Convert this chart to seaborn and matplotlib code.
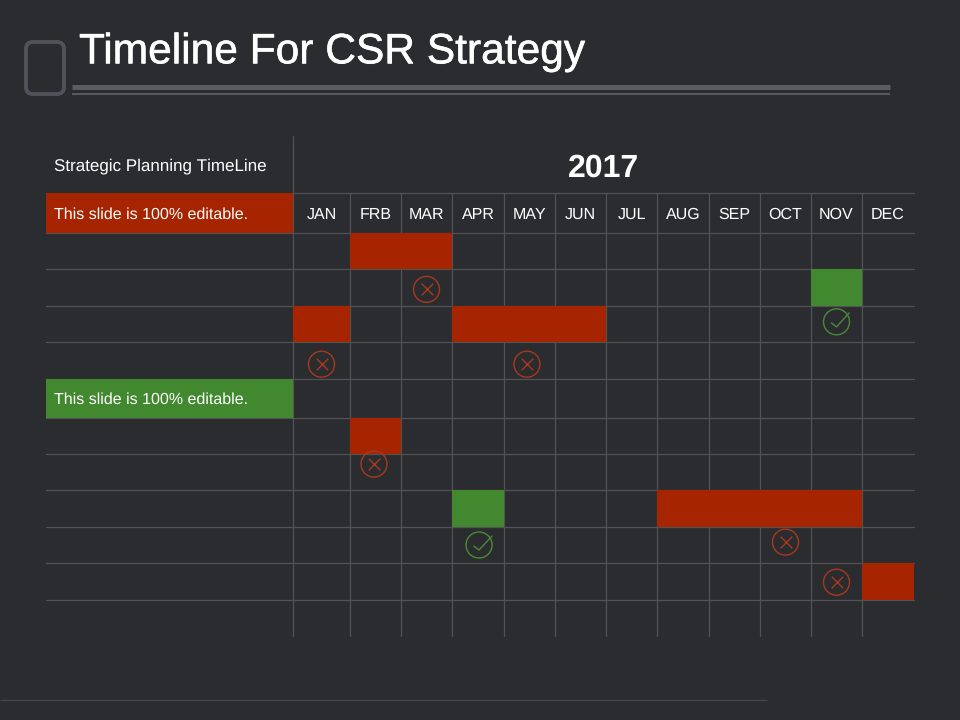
import numpy as np
import seaborn as sns
from matplotlib import pyplot as plt
from matplotlib import patheffects
from matplotlib.patches import FancyBboxPatch

BG = '#2a2c30'
GRID = '#505256'
RED = '#a62500'
GREEN = '#41882f'
MARK_RED = '#a8391d'
MARK_GREEN = '#4a8a38'

months = ['JAN', 'FRB', 'MAR', 'APR', 'MAY', 'JUN', 'JUL', 'AUG', 'SEP', 'OCT', 'NOV', 'DEC']
year = '2017'
title = 'Timeline For CSR Strategy'
header_label = 'Strategic Planning TimeLine'
editable_label = 'This slide is 100% editable.'

# row, first month, number of months, colour
bar_rows = [0, 1, 2, 2, 5, 7, 7, 9]
bar_starts = [1, 10, 0, 3, 1, 3, 7, 11]
bar_spans = [2, 1, 1, 3, 1, 1, 4, 1]
bar_colors = [RED, GREEN, RED, RED, RED, GREEN, RED, RED]

# status icons, position in month / row units
cross_months = [2.5, 0.5, 4.45, 1.47, 9.5, 10.5]
cross_rows = [1.55, 3.6, 3.6, 6.28, 8.42, 9.52]
check_months = [10.5, 3.52]
check_rows = [2.44, 8.5]

# pixel layout of the uneven table
col_px = [46, 293, 350, 401, 452, 504, 555, 606, 657, 709, 760, 811, 862, 914]
col_units = list(range(-1, 13))
row_px = [136, 193, 233, 269, 306, 342, 379, 418, 454, 490, 527, 563, 600, 636]
row_units = list(range(-2, 12))

W, H = 960, 720

sns.set_theme(style='dark', rc={'figure.facecolor': BG, 'axes.facecolor': BG})
plt.rcParams['font.family'] = ['Liberation Sans', 'DejaVu Sans']
plt.rcParams['text.hinting'] = 'no_hinting'
plt.rcParams['text.hinting_factor'] = 1

fig = plt.figure(figsize=(W / 100, H / 100), dpi=100)
ax = fig.add_axes([col_px[0] / W, 1 - row_px[-1] / H,
                   (col_px[-1] - col_px[0]) / W, (row_px[-1] - row_px[0]) / H])
ax.set_xscale('function', functions=(lambda v: np.interp(v, col_units, col_px),
                                     lambda v: np.interp(v, col_px, col_units)))
ax.set_yscale('function', functions=(lambda v: np.interp(v, row_units, row_px),
                                     lambda v: np.interp(v, row_px, row_units)))
ax.set_xlim(-1, 12)
ax.set_ylim(11, -2)
ax.set_xticks([])
ax.set_yticks([])
ax.minorticks_off()
for s in ax.spines.values():
    s.set_visible(False)

# grid
for c in range(0, 12):
    ax.plot([c, c], [-1 if c else -2, 11], color=GRID, lw=0.9, zorder=1, clip_on=False)
for r in range(-1, 11):
    ax.plot([-1 if r >= 0 else 0, 12], [r, r], color=GRID, lw=0.9, zorder=1, clip_on=False)

# bars
for row, start, span, color in zip(bar_rows, bar_starts, bar_spans, bar_colors):
    ax.barh(row + 0.5, span, left=start, height=1, color=color, lw=0, zorder=2)

# left column labels
ax.barh(-0.5, 1, left=-1, height=1, color=RED, lw=0, zorder=2)
ax.barh(4.5, 1, left=-1, height=1, color=GREEN, lw=0, zorder=2)
ax.text(-1 + 8 / 247, -1.47, header_label, color='white', fontsize=12.4, va='center')
ax.text(-1 + 8 / 247, -0.46, editable_label, color='white', fontsize=11.7, va='center', zorder=3)
ax.text(-1 + 8 / 247, 4.54, editable_label, color='white', fontsize=11.7, va='center', zorder=3)

# header
ax.text(5.96, -1.43, year, color='white', fontsize=23, fontweight='bold', ha='center', va='center')
for i, m in enumerate(months):
    ax.text(i + 0.5, -0.46, m, color='white', fontsize=11.7, ha='center', va='center')

# status icons
sns.scatterplot(x=cross_months, y=cross_rows, ax=ax, s=350, facecolor='none',
                edgecolor=MARK_RED, linewidth=1, zorder=4, legend=False)
sns.scatterplot(x=cross_months, y=cross_rows, ax=ax, s=70, marker='x', color=MARK_RED,
                linewidth=1, zorder=4, legend=False)
sns.scatterplot(x=check_months, y=check_rows, ax=ax, s=350, facecolor='none',
                edgecolor=MARK_GREEN, linewidth=1, zorder=4, legend=False)
for m, r in zip(check_months, check_rows):
    ax.plot([m - 0.1, m, m + 0.25], [r + 0.03, r + 0.14, r - 0.25],
            color=MARK_GREEN, lw=1, zorder=5)

# title block, drawn on the figure in pixel space
bg = fig.add_axes([0, 0, 1, 1], zorder=-1)
bg.set_xlim(0, W)
bg.set_ylim(H, 0)
bg.axis('off')
bg.add_patch(FancyBboxPatch((26, 42), 38, 52, boxstyle='round,pad=0,rounding_size=7',
                            fc='none', ec='#50535a', lw=2.8))
bg.plot([72, 890], [86.5, 86.5], color='#5a5c62', lw=3.6, solid_capstyle='butt')
bg.plot([72, 890], [94, 94], color='#5a5c62', lw=1.4, solid_capstyle='butt')
bg.plot([0, 767], [700, 700], color='#45474b', lw=0.9, solid_capstyle='butt')
bg.text(79, 52.5, title, color='white', fontsize=30.6, va='center',
        path_effects=[patheffects.withStroke(linewidth=0.4, foreground='white')])

fig.savefig('out.png', dpi=100, facecolor=BG)
